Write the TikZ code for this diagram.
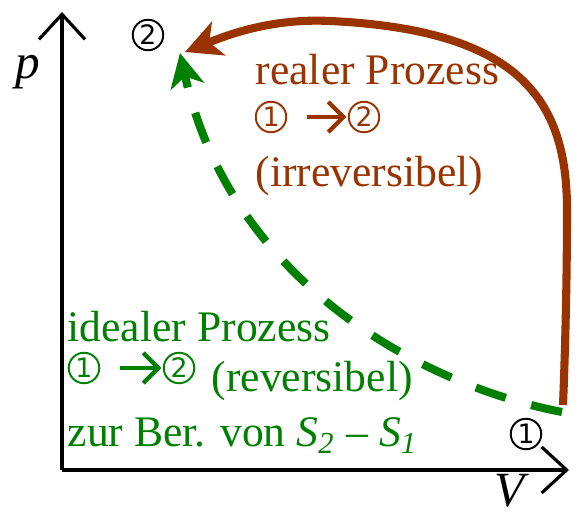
\documentclass[tikz,border=0pt]{standalone}
\usepackage{fontspec}
\setmainfont{Liberation Serif}
\newfontfamily\symfont{DejaVu Sans}
\usetikzlibrary{arrows.meta}
\definecolor{rust}{HTML}{993300}
\definecolor{leaf}{HTML}{008000}

\begin{document}
\begin{tikzpicture}[
  x=0.01cm, y=-0.01cm,
  axis/.style={-{Straight Barb[length=2.5mm,width=4.6mm]},line width=0.9pt},
  real/.style={-{Stealth[length=3.6mm,width=3.6mm,inset=1mm]},rust,line width=2.3pt},
  ideal/.style={-{Stealth[length=3.4mm,width=3.4mm,inset=1mm]},leaf,line width=2.3pt,dash pattern=on 9pt off 7.5pt},
  lbl/.style={inner sep=0pt,anchor=base west,font=\fontsize{12.4}{14}\selectfont},
  digit/.style={circle,draw,line width=0.55pt,minimum size=0.305cm,inner sep=0pt,font=\symfont\fontsize{7.6}{7.6}\selectfont},
  goes/.style={-{Straight Barb[length=4.3pt,width=8.6pt]},line width=1.2pt,shorten <=5.6pt,shorten >=0.4pt},
  axlbl/.style={inner sep=0pt,font=\fontsize{14}{14}\selectfont\itshape}
]
\useasboundingbox (0,0) rectangle (579,513);

% axes
\coordinate (O) at (62,470);
\coordinate (ptop) at (62,12);
\coordinate (vend) at (569,470);
\draw[axis] (O) -- (ptop);
\draw[axis] (O) -- (vend);
\node[axlbl] (plbl) at (28,72) {p};
\node[axlbl] (vlbl) at (510,491) {V};

% states
\node[digit] (st2) at (148,35) {2};
\node[digit] (st1) at (526,434) {1};
\coordinate (r1) at (563,405);
\coordinate (r2) at (185,52);
\coordinate (g1) at (562,412);
\coordinate (g2) at (180,53);

% real process
\draw[real] (r1) .. controls (566,330) and (567,260) .. (567,210)
  .. controls (567,100) and (520,30) .. (330,21)
  .. controls (270,18) and (225,36) .. (r2);
% ideal process
\draw[ideal] (g1) .. controls (420,385) and (230,280) .. (g2);

% labels
\node[lbl,rust] (rname) at (255,85) {realer Prozess};
\node[digit,rust] (ra) at (271,117) {1};
\node[digit,rust] (rb) at (364,117) {2};
\draw[goes,rust] (ra) -- (rb);
\node[lbl,rust] (rkind) at (255,187) {(irreversibel)};

\node[lbl,leaf] (gname) at (67,342) {idealer Prozess};
\node[digit,leaf] (ga) at (84,368) {1};
\node[digit,leaf] (gb) at (179,368) {2};
\draw[goes,leaf] (ga) -- (gb);
\node[lbl,leaf] (gkind) at (211,392) {(reversibel)};
\node[lbl,leaf] (gnote) at (67,447) {zur Ber. von \textit{S}\textsubscript{\textit{2}} – \textit{S}\textsubscript{\textit{1}}};
\end{tikzpicture}
\end{document}
